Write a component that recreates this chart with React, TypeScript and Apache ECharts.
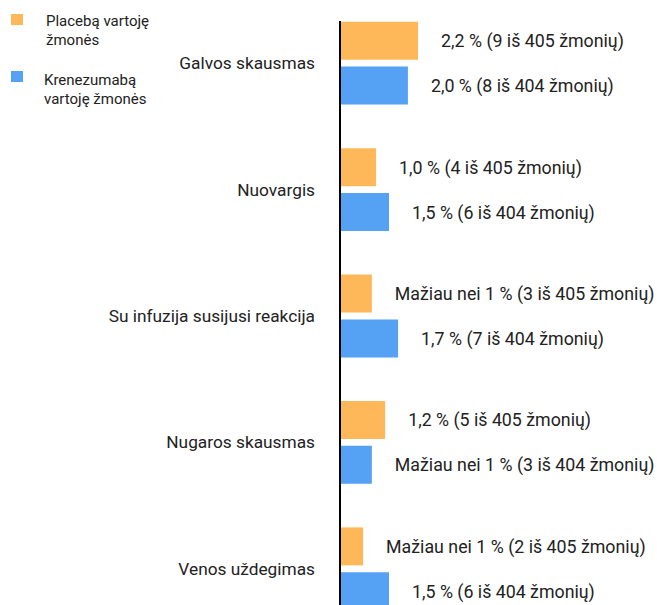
import React, { useEffect, useRef } from "react";
import * as echarts from "echarts";

const categories = [
  "Galvos skausmas",
  "Nuovargis",
  "Su infuzija susijusi reakcija",
  "Nugaros skausmas",
  "Venos uždegimas",
];
const seriesNames = ["Placebą vartoję\nžmonės", "Krenezumabą\nvartoję žmonės"];
// bar lengths (percent)
const placeboValues = [2.23, 1.03, 0.91, 1.29, 0.66];
const crenezumabValues = [1.94, 1.4, 1.66, 0.91, 1.4];
const placeboLabels = [
  "2,2 % (9 iš 405 žmonių)",
  "1,0 % (4 iš 405 žmonių)",
  "Mažiau nei 1 % (3 iš 405 žmonių)",
  "1,2 % (5 iš 405 žmonių)",
  "Mažiau nei 1 % (2 iš 405 žmonių)",
];
const crenezumabLabels = [
  "2,0 % (8 iš 404 žmonių)",
  "1,5 % (6 iš 404 žmonių)",
  "1,7 % (7 iš 404 žmonių)",
  "Mažiau nei 1 % (3 iš 404 žmonių)",
  "1,5 % (6 iš 404 žmonių)",
];
const colors = ["#FEB859", "#55A1F4"];

export default function App() {
  const ref = useRef<HTMLDivElement>(null);
  useEffect(() => {
    if (!ref.current) return;
    const chart = echarts.init(ref.current, null, { renderer: "svg" });
    const font = "Roboto, 'Noto Sans', sans-serif";
    const textColor = "#222";
    const barLabel = {
      show: true,
      position: "right",
      distance: 23,
      fontSize: 17.8,
      color: textColor,
      fontFamily: font,
    };
    chart.setOption({
      animation: false,
      backgroundColor: "#fff",
      grid: { left: 340, top: 0, right: 2, bottom: 0 },
      xAxis: { type: "value", min: 0, max: 9, show: false },
      yAxis: {
        type: "category",
        data: categories,
        inverse: true,
        axisLine: { show: false },
        axisTick: { show: false },
        axisLabel: { margin: 25, fontSize: 17.3, color: textColor, fontFamily: font },
      },
      series: [
        {
          name: seriesNames[0],
          type: "bar",
          data: placeboValues,
          barWidth: 38,
          barGap: "18%",
          itemStyle: { color: colors[0] },
          label: { ...barLabel, formatter: (p: any) => placeboLabels[p.dataIndex] },
        },
        {
          name: seriesNames[1],
          type: "bar",
          data: crenezumabValues,
          barWidth: 38,
          barGap: "18%",
          itemStyle: { color: colors[1] },
          label: { ...barLabel, formatter: (p: any) => crenezumabLabels[p.dataIndex] },
        },
      ],
      graphic: [
        {
          type: "line",
          shape: { x1: 340, y1: 21, x2: 340, y2: 632 },
          style: { stroke: "#000", lineWidth: 2 },
          z: 10,
        },
        { type: "rect", shape: { x: 11, y: 14, width: 12, height: 11 }, style: { fill: colors[0] } },
        {
          type: "text",
          x: 46,
          y: 11,
          style: { text: seriesNames[0], fontSize: 15, lineHeight: 19, fill: textColor, fontFamily: font },
        },
        { type: "rect", shape: { x: 11, y: 71, width: 12, height: 11 }, style: { fill: colors[1] } },
        {
          type: "text",
          x: 44,
          y: 70,
          style: { text: seriesNames[1], fontSize: 15, lineHeight: 19, fill: textColor, fontFamily: font },
        },
      ],
    });
    return () => chart.dispose();
  }, []);
  return (
    <div
      style={{ position: "absolute", left: 0, top: 0, width: 657, height: 605, overflow: "hidden" }}
    >
      <div ref={ref} style={{ width: 657, height: 632 }} />
    </div>
  );
}
